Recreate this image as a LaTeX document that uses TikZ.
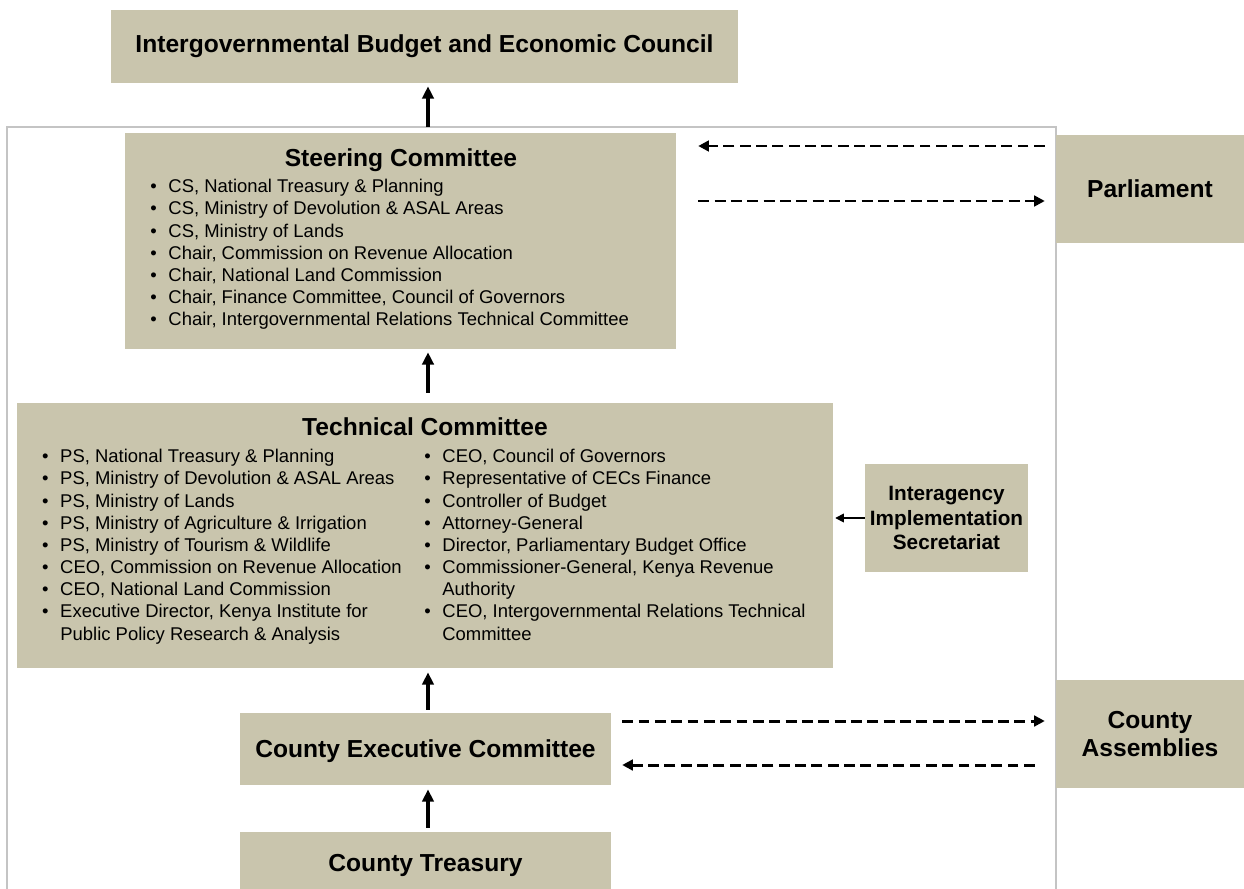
\documentclass[tikz,border=0pt]{standalone}
\usepackage{fontspec}
\setmainfont{Liberation Sans}
\usetikzlibrary{arrows.meta, positioning}

\definecolor{boxfill}{HTML}{C9C5AD}
\definecolor{framegray}{HTML}{C4C4C4}
\newcommand{\bulletmark}{\makebox[10.3pt][l]{\textbullet}}

\begin{document}
\begin{tikzpicture}[
        x=0.02cm, y=-0.02cm,
        panel/.style={rectangle, fill=boxfill, inner sep=0pt, align=center, font=\fontsize{14}{16}\selectfont\bfseries},
        heading/.style={anchor=base, inner sep=0pt, font=\fontsize{14}{16}\selectfont\bfseries},
        entry/.style={anchor=base west, inner sep=0pt, font=\fontsize{10.5}{12.6}\selectfont},
        upflow/.style={-{Triangle[length=7pt, width=6.5pt]}, line width=2pt},
        exchange/.style={-{Triangle[length=6pt, width=6pt]}, line width=1.7pt, dash pattern=on 6.2pt off 3.1pt},
        feed/.style={-{Triangle[length=5pt, width=5pt]}, line width=0.9pt}
    ]
    \useasboundingbox (0,0) rectangle (1244,889);

    % Frame around the national and county bodies
    \draw[framegray, line width=1.5pt] (7,900) |- (1056,127) -- (1056,900);

    % Bodies
    \node[panel, minimum width=12.54cm, minimum height=1.46cm] (ibec) at (424.5,46.5) {Intergovernmental Budget and Economic Council};
    \node[panel, minimum width=11.02cm, minimum height=4.32cm] (steer) at (400.5,241) {};
    \node[panel, minimum width=3.76cm, minimum height=2.16cm] (parl) at (1150,189) {Parliament};
    \node[panel, minimum width=16.32cm, minimum height=5.30cm] (tech) at (425,535.5) {};
    \node[panel, minimum width=3.26cm, minimum height=2.16cm, font=\fontsize{11.8}{14.2}\selectfont\bfseries] (iis) at (946.5,518) {Interagency\\Implementation\\Secretariat};
    \node[panel, minimum width=7.42cm, minimum height=1.44cm, text depth=0pt] (cec) at (425.5,749) {County Executive Committee};
    \node[panel, minimum width=3.76cm, minimum height=2.16cm, font=\fontsize{14}{16.4}\selectfont\bfseries] (ca) at (1150,734) {County\\Assemblies};
    \node[panel, minimum width=7.42cm, minimum height=1.24cm, text depth=0pt] (ct) at (425.5,863) {County Treasury};

    % Steering committee members
    \node[heading] (steertitle) at (401,166) {Steering Committee};
    \foreach \t [count=\i] in {{CS, National Treasury \& Planning}, {CS, Ministry of Devolution \& ASAL Areas}, {CS, Ministry of Lands}, {Chair, Commission on Revenue Allocation}, {Chair, National Land Commission}, {Chair, Finance Committee, Council of Governors}, {Chair, Intergovernmental Relations Technical Committee}} {
        \node[entry] (sc\i) at (150,170.5+22.17*\i) {\bulletmark\t};
    }

    % Technical committee members
    \node[heading] (techtitle) at (425,435) {Technical Committee};
    \foreach \t [count=\i] in {{PS, National Treasury \& Planning}, {PS, Ministry of Devolution \& ASAL Areas}, {PS, Ministry of Lands}, {PS, Ministry of Agriculture \& Irrigation}, {PS, Ministry of Tourism \& Wildlife}, {CEO, Commission on Revenue Allocation}, {CEO, National Land Commission}, {Executive Director, Kenya Institute for}} {
        \node[entry] (tl\i) at (41.8,440.5+22.17*\i) {\bulletmark\t};
    }
    \node[entry] (tl9) at (60,440.5+22.17*9) {Public Policy Research \& Analysis};
    \foreach \i/\t in {1/{CEO, Council of Governors}, 2/{Representative of CECs Finance}, 3/{Controller of Budget}, 4/{Attorney-General}, 5/{Director, Parliamentary Budget Office}, 6/{Commissioner-General, Kenya Revenue}, 8/{CEO, Intergovernmental Relations Technical}} {
        \node[entry] (tr\i) at (424,440.5+22.17*\i) {\bulletmark\t};
    }
    \node[entry] (tr7) at (442,440.5+22.17*7) {Authority};
    \node[entry] (tr9) at (442,440.5+22.17*9) {Committee};

    % Reporting line
    \coordinate (spine) at (428,127);
    \draw[upflow, shorten >=1.7pt] (spine) -- (ibec.south -| spine);
    \draw[upflow, shorten <=5.7pt, shorten >=1.7pt] (tech.north -| spine) -- (steer.south -| spine);
    \draw[upflow, shorten <=1.7pt, shorten >=2.3pt] (cec.north -| spine) -- (tech.south -| spine);
    \draw[upflow, shorten <=2.3pt, shorten >=2.3pt] (ct.north -| spine) -- (cec.south -| spine);

    % Consultation with the legislatures
    \coordinate (r1) at (0,146);
    \coordinate (r2) at (0,201);
    \coordinate (r3) at (0,721);
    \coordinate (r4) at (0,765);
    \draw[exchange, shorten <=6.2pt, shorten >=12.5pt] (parl.west |- r1) -- (steer.east |- r1);
    \draw[exchange, shorten <=12.5pt, shorten >=6.2pt] (steer.east |- r2) -- (parl.west |- r2);
    \draw[exchange, shorten <=6.2pt, shorten >=6.2pt] (cec.east |- r3) -- (ca.west |- r3);
    \draw[exchange, shorten <=11.9pt, shorten >=6.2pt] (ca.west |- r4) -- (cec.east |- r4);
    \draw[feed, shorten >=1.1pt] (iis.west) -- (tech.east |- iis.west);

\end{tikzpicture}
\end{document}
